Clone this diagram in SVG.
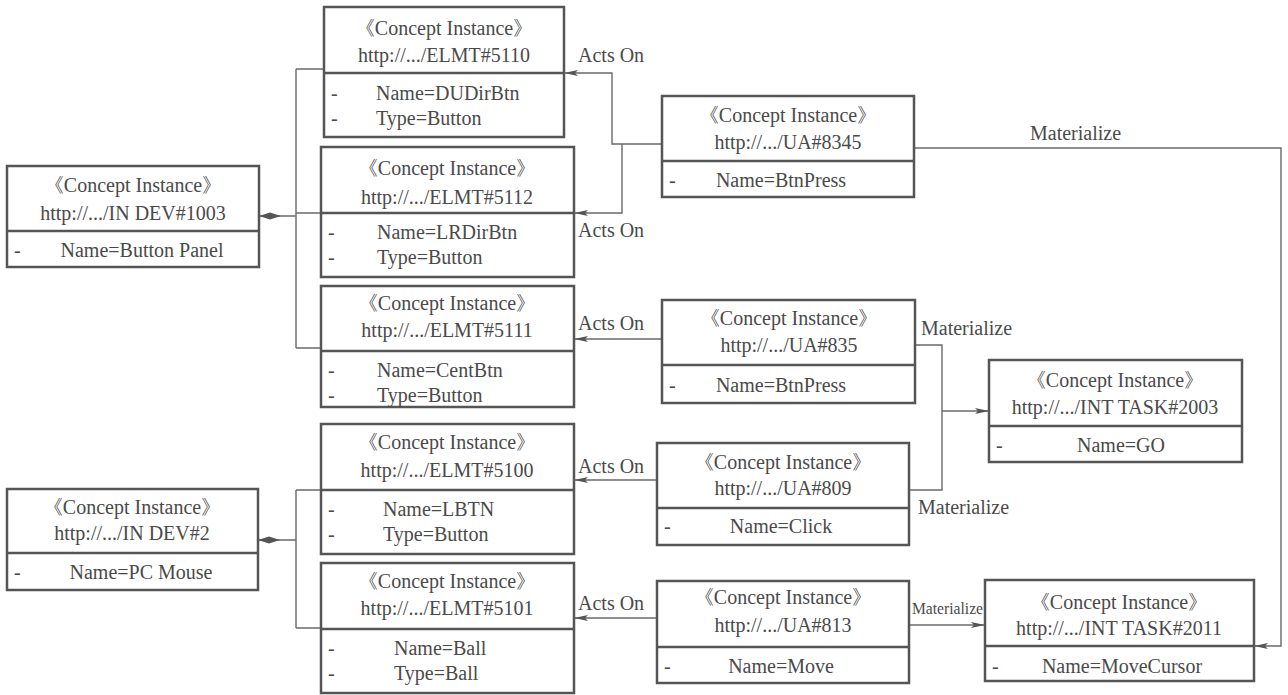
<svg xmlns="http://www.w3.org/2000/svg" width="1288" height="695" viewBox="0 0 1288 695" font-family="'Liberation Serif', serif">
<defs>
<style>
.box{fill:#fff;stroke:#555;stroke-width:2.5}
.div{stroke:#555;stroke-width:2.5}
.t{font-family:'Liberation Serif',serif;font-size:20px;fill:#4a4a4a}
.m{text-anchor:middle}
.c{fill:none;stroke:#6a6a6a;stroke-width:1.4}
</style>
<marker id="arr" markerUnits="userSpaceOnUse" markerWidth="16" markerHeight="8" refX="14" refY="4" orient="auto">
<path d="M0,1 L14,4 L0,7 L3,4 Z" fill="#555"/>
</marker>
</defs>
<rect width="1288" height="695" fill="#fff"/>

<g id="connectors">
<path class="c" d="M259,216 H296 M296,69 V348 M296,69 H324 M296,213 H321 M296,348 H321"/>
<path d="M259,216 L270,212.5 L281,216 L270,219.5 Z" fill="#555"/>
<path class="c" d="M258,540 H296 M296,490 V628 M296,490 H321 M296,628 H321"/>
<path d="M258,540 L269,536.5 L280,540 L269,543.5 Z" fill="#555"/>
<path class="c" d="M662,144 H612 V73 H564" marker-end="url(#arr)"/>
<path class="c" d="M622,144 V213 H574" marker-end="url(#arr)"/>
<path class="c" d="M662,339 H574" marker-end="url(#arr)"/>
<path class="c" d="M657,480 H574" marker-end="url(#arr)"/>
<path class="c" d="M657,618 H574" marker-end="url(#arr)"/>
<path class="c" d="M914,148 H1281 V646 H1254" marker-end="url(#arr)"/>
<path class="c" d="M915,345 H942 V490 H909"/>
<path class="c" d="M942,411 H989" marker-end="url(#arr)"/>
<path class="c" d="M909,625 H985" marker-end="url(#arr)"/>
<text class="t" x="578" y="62">Acts On</text>
<text class="t" x="578" y="237">Acts On</text>
<text class="t" x="578" y="330">Acts On</text>
<text class="t" x="578" y="473">Acts On</text>
<text class="t" x="578" y="610">Acts On</text>
<text class="t" x="1030" y="140">Materialize</text>
<text class="t" x="921" y="335">Materialize</text>
<text class="t" x="918" y="514">Materialize</text>
<text class="t" x="912" y="614" style="font-size:17px" textLength="71" lengthAdjust="spacingAndGlyphs">Materialize</text>
</g>

<g id="indev1003">
<rect class="box" x="7" y="166" width="252" height="101"/>
<line class="div" x1="7" y1="231" x2="259" y2="231"/>
<text class="t m" x="133" y="192">《Concept Instance》</text>
<text class="t m" x="133" y="220">http://.../IN DEV#1003</text>
<text class="t" x="14" y="257">-</text>
<text class="t m" x="142" y="257">Name=Button Panel</text>
</g>

<g id="elmt5110">
<rect class="box" x="324" y="7" width="240" height="130"/>
<line class="div" x1="324" y1="73" x2="564" y2="73"/>
<text class="t m" x="444" y="35">《Concept Instance》</text>
<text class="t m" x="444" y="62">http://.../ELMT#5110</text>
<text class="t" x="331" y="100">-</text>
<text class="t" x="376" y="100">Name=DUDirBtn</text>
<text class="t" x="331" y="125">-</text>
<text class="t" x="376" y="125">Type=Button</text>
</g>

<g id="elmt5112">
<rect class="box" x="321" y="147" width="253" height="130"/>
<line class="div" x1="321" y1="213" x2="574" y2="213"/>
<text class="t m" x="447" y="175">《Concept Instance》</text>
<text class="t m" x="447" y="204">http://.../ELMT#5112</text>
<text class="t" x="328" y="239">-</text>
<text class="t" x="377" y="239">Name=LRDirBtn</text>
<text class="t" x="328" y="264">-</text>
<text class="t" x="377" y="264">Type=Button</text>
</g>

<g id="elmt5111">
<rect class="box" x="321" y="286" width="253" height="121"/>
<line class="div" x1="321" y1="351" x2="574" y2="351"/>
<text class="t m" x="447" y="310">《Concept Instance》</text>
<text class="t m" x="447" y="337">http://.../ELMT#5111</text>
<text class="t" x="328" y="377">-</text>
<text class="t" x="377" y="377">Name=CentBtn</text>
<text class="t" x="328" y="402">-</text>
<text class="t" x="377" y="402">Type=Button</text>
</g>

<g id="elmt5100">
<rect class="box" x="321" y="424" width="253" height="130"/>
<line class="div" x1="321" y1="490" x2="574" y2="490"/>
<text class="t m" x="447" y="449">《Concept Instance》</text>
<text class="t m" x="447" y="477">http://.../ELMT#5100</text>
<text class="t" x="328" y="516">-</text>
<text class="t" x="383" y="516">Name=LBTN</text>
<text class="t" x="328" y="541">-</text>
<text class="t" x="383" y="541">Type=Button</text>
</g>

<g id="elmt5101">
<rect class="box" x="321" y="563" width="253" height="130"/>
<line class="div" x1="321" y1="629" x2="574" y2="629"/>
<text class="t m" x="447" y="588">《Concept Instance》</text>
<text class="t m" x="447" y="615">http://.../ELMT#5101</text>
<text class="t" x="328" y="655">-</text>
<text class="t" x="394" y="655">Name=Ball</text>
<text class="t" x="328" y="680">-</text>
<text class="t" x="394" y="680">Type=Ball</text>
</g>

<g id="indev2">
<rect class="box" x="7" y="489" width="251" height="101"/>
<line class="div" x1="7" y1="553" x2="258" y2="553"/>
<text class="t m" x="132" y="514">《Concept Instance》</text>
<text class="t m" x="132" y="540">http://.../IN DEV#2</text>
<text class="t" x="14" y="579">-</text>
<text class="t m" x="141" y="579">Name=PC Mouse</text>
</g>

<g id="ua8345">
<rect class="box" x="662" y="96" width="252" height="101"/>
<line class="div" x1="662" y1="161" x2="914" y2="161"/>
<text class="t m" x="788" y="122">《Concept Instance》</text>
<text class="t m" x="788" y="149">http://.../UA#8345</text>
<text class="t" x="669" y="187">-</text>
<text class="t m" x="781" y="187">Name=BtnPress</text>
</g>

<g id="ua835">
<rect class="box" x="662" y="300" width="253" height="103"/>
<line class="div" x1="662" y1="365" x2="915" y2="365"/>
<text class="t m" x="789" y="325">《Concept Instance》</text>
<text class="t m" x="789" y="352">http://.../UA#835</text>
<text class="t" x="669" y="392">-</text>
<text class="t m" x="781" y="392">Name=BtnPress</text>
</g>

<g id="ua809">
<rect class="box" x="657" y="443" width="252" height="102"/>
<line class="div" x1="657" y1="508" x2="909" y2="508"/>
<text class="t m" x="783" y="469">《Concept Instance》</text>
<text class="t m" x="783" y="495">http://.../UA#809</text>
<text class="t" x="664" y="533">-</text>
<text class="t m" x="781" y="533">Name=Click</text>
</g>

<g id="ua813">
<rect class="box" x="657" y="581" width="252" height="102"/>
<line class="div" x1="657" y1="647" x2="909" y2="647"/>
<text class="t m" x="783" y="604">《Concept Instance》</text>
<text class="t m" x="783" y="632">http://.../UA#813</text>
<text class="t" x="664" y="673">-</text>
<text class="t m" x="781" y="673">Name=Move</text>
</g>

<g id="inttask2003">
<rect class="box" x="989" y="360" width="253" height="102"/>
<line class="div" x1="989" y1="426" x2="1242" y2="426"/>
<text class="t m" x="1115" y="387">《Concept Instance》</text>
<text class="t m" x="1115" y="414">http://.../INT TASK#2003</text>
<text class="t" x="996" y="452">-</text>
<text class="t m" x="1121" y="452">Name=GO</text>
</g>

<g id="inttask2011">
<rect class="box" x="985" y="580" width="269" height="101"/>
<line class="div" x1="985" y1="646" x2="1254" y2="646"/>
<text class="t m" x="1119" y="609">《Concept Instance》</text>
<text class="t m" x="1119" y="635">http://.../INT TASK#2011</text>
<text class="t" x="992" y="673">-</text>
<text class="t m" x="1122" y="673">Name=MoveCursor</text>
</g>
</svg>
